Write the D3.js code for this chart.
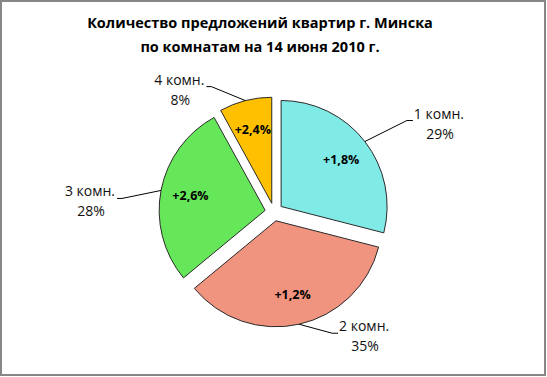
<!DOCTYPE html>
<html>
<head>
<meta charset="utf-8">
<script src="https://cdn.jsdelivr.net/npm/d3@7"></script>
<style>
  body { margin: 0; background: #fff; }
  svg { display: block; font-family: "Open Sans", sans-serif; }
  .title { font-weight: bold; font-size: 14.5px; fill: #000; }
  .slice { stroke: #2b2b2b; stroke-width: 1; }
  .inner { font-weight: bold; font-size: 12.5px; fill: #000; }
  .outer { font-size: 14px; fill: #111; }
  .leader { fill: none; stroke: #000; stroke-width: 1; }
</style>
</head>
<body>
<div id="container"></div>
<script>
/* CONSTANTS AND GLOBALS */
const width = 547,
  height = 377

const titleLines = ["Количество предложений квартир г. Минска", "по комнатам на 14 июня 2010 г."]

// DATA
const rooms = ["1 комн.", "2 комн.", "3 комн.", "4 комн."]
const shares = [29, 35, 28, 8]           // % of offers
const changes = ["+1,8%", "+1,2%", "+2,6%", "+2,4%"]   // change vs previous
const colors = ["#80eae6", "#f0937f", "#66e759", "#ffc000"]

// label nudges: from slice edge to the elbow of the leader line
const labelNudge = [[42, -21], [33, 9], [-39, 8], [-34, -14]]

const cx = 274, cy = 212,
  radius = 106,
  explode = 9

const svg = d3.select("#container")
  .append("svg")
  .attr("width", width)
  .attr("height", height)

// chart border
svg.append("rect")
  .attr("x", 1).attr("y", 1)
  .attr("width", width - 3).attr("height", height - 3)
  .attr("fill", "#fff")
  .attr("stroke", "#878787")
  .attr("stroke-width", 2)

// TITLE
svg.append("text")
  .attr("class", "title")
  .attr("text-anchor", "middle")
  .selectAll("tspan")
  .data(titleLines)
  .join("tspan")
  .attr("x", 260)
  .attr("y", (d, i) => 28 + i * 24)
  .text(d => d)

// PIE
const pie = d3.pie().sort(null).value(d => d)
const arcs = pie(shares)

const arcGen = d3.arc().innerRadius(0).outerRadius(radius)
const innerLabelArc = d3.arc().innerRadius(76).outerRadius(76)
const edgeArc = d3.arc().innerRadius(radius).outerRadius(radius)

const mid = d => (d.startAngle + d.endAngle) / 2
const offset = d => [Math.sin(mid(d)) * explode, -Math.cos(mid(d)) * explode]

const g = svg.append("g")
  .attr("transform", `translate(${cx}, ${cy})`)

const slices = g.selectAll(".sliceGroup")
  .data(arcs)
  .join("g")
  .attr("class", "sliceGroup")
  .attr("transform", d => `translate(${offset(d)})`)

slices.append("path")
  .attr("class", "slice")
  .attr("d", arcGen)
  .attr("fill", (d, i) => colors[i])

slices.append("text")
  .attr("class", "inner")
  .attr("text-anchor", "middle")
  .attr("dy", "0.35em")
  .attr("transform", d => `translate(${innerLabelArc.centroid(d)})`)
  .text((d, i) => changes[i])

// OUTER LABELS WITH LEADER LINES
arcs.forEach((d, i) => {
  const o = offset(d)
  const e = edgeArc.centroid(d)
  const start = [e[0] + o[0], e[1] + o[1]]
  const elbow = [start[0] + labelNudge[i][0], start[1] + labelNudge[i][1]]
  const right = labelNudge[i][0] > 0
  const tail = [elbow[0] + (right ? 6 : -5), elbow[1]]

  g.append("path")
    .attr("class", "leader")
    .attr("d", d3.line()([start, elbow, tail]))

  const label = g.append("text")
    .attr("class", "outer")
    .attr("text-anchor", "middle")

  const l1 = label.append("tspan").text(rooms[i])
  const w = l1.node().getComputedTextLength()
  const x = right ? tail[0] + 1 + w / 2 : tail[0] - 2 - w / 2
  l1.attr("x", x).attr("y", elbow[1] - 2)
  label.append("tspan")
    .attr("x", x + 1)
    .attr("y", elbow[1] + 18)
    .text(shares[i] + "%")
})
</script>
</body>
</html>
